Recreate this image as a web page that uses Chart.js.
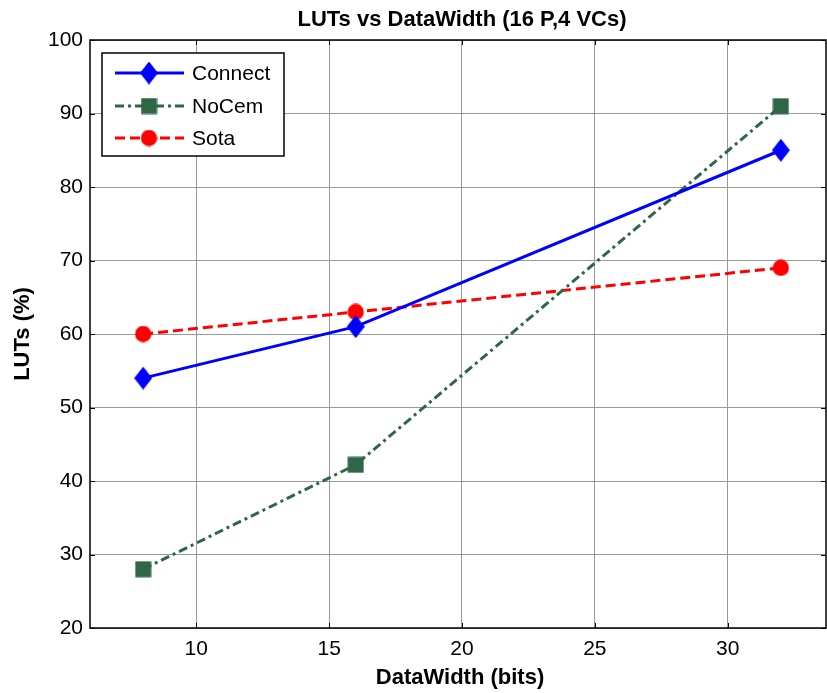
<!DOCTYPE html>
<html>
<head>
<meta charset="utf-8">
<script src="https://cdn.jsdelivr.net/npm/chart.js@4/dist/chart.umd.min.js"></script>
<style>
  html, body { margin: 0; padding: 0; background: #fff; }
  canvas { display: block; }
</style>
</head>
<body>
<canvas id="chart" width="827" height="693"></canvas>
<script>
// values
const dataWidth = [8, 16, 32];
const connect = [54, 61, 85];
const noCem = [28, 42.2, 91];
const sota = [60, 63, 69];
const xTicks = [10, 15, 20, 25, 30];
const seriesNames = ['Connect', 'NoCem', 'Sota'];

const FONT = '"Liberation Sans", Arial, sans-serif';
const blue = '#0000ff', green = '#2f6646', red = '#ff0000';

function marker(shape, color) {
  const c = document.createElement('canvas');
  const w = shape === 'diamond' ? 18 : 17, h = shape === 'diamond' ? 23 : 17;
  c.width = w; c.height = h;
  const g = c.getContext('2d');
  g.fillStyle = color;
  g.beginPath();
  if (shape === 'diamond') {
    g.moveTo(w / 2, 0); g.lineTo(w, h / 2); g.lineTo(w / 2, h); g.lineTo(0, h / 2);
  } else if (shape === 'square') {
    g.rect(0.5, 0.5, w - 1, h - 1);
  } else {
    g.arc(w / 2, h / 2, w / 2 - 0.3, 0, Math.PI * 2);
  }
  g.closePath();
  g.fill();
  return c;
}

const markers = [marker('diamond', blue), marker('square', green), marker('circle', red)];
const colors = [blue, green, red];
const dashes = [[], [9, 4, 3, 4], [10, 5]];
const values = [connect, noCem, sota];

function pts(ys) {
  return dataWidth.map((x, i) => ({ x: x, y: ys[i] }));
}

const frame = {
  id: 'frame',
  afterDraw(chart) {
    const ctx = chart.ctx, a = chart.chartArea;
    const xs = chart.scales.x, ys = chart.scales.y;
    ctx.save();
    ctx.strokeStyle = '#000';
    ctx.lineWidth = 1.5;
    ctx.strokeRect(a.left, a.top, a.right - a.left, a.bottom - a.top);
    ctx.lineWidth = 1;
    ctx.beginPath();
    xTicks.forEach(v => {
      const px = Math.round(xs.getPixelForValue(v)) + 0.5;
      ctx.moveTo(px, a.bottom); ctx.lineTo(px, a.bottom - 5);
      ctx.moveTo(px, a.top); ctx.lineTo(px, a.top + 5);
    });
    ys.ticks.forEach(t => {
      const py = Math.round(ys.getPixelForValue(t.value)) + 0.5;
      ctx.moveTo(a.left, py); ctx.lineTo(a.left + 5, py);
      ctx.moveTo(a.right, py); ctx.lineTo(a.right - 5, py);
    });
    ctx.stroke();

    // titles
    ctx.fillStyle = '#000';
    ctx.textAlign = 'center';
    ctx.textBaseline = 'middle';
    ctx.font = 'bold 22px ' + FONT;
    ctx.fillText('LUTs vs DataWidth (16 P,4 VCs)', 462, 20);
    ctx.fillText('DataWidth (bits)', 460, 678);
    ctx.translate(23, 334);
    ctx.rotate(-Math.PI / 2);
    ctx.fillText('LUTs (%)', 0, 0);
    ctx.restore();

    // legend
    ctx.save();
    ctx.fillStyle = '#fff';
    ctx.fillRect(102, 53, 182, 103);
    ctx.strokeStyle = '#000';
    ctx.lineWidth = 1.5;
    ctx.strokeRect(102, 53, 182, 103);
    const rows = [73, 106, 138];
    ctx.font = '21px ' + FONT;
    ctx.textAlign = 'left';
    ctx.textBaseline = 'middle';
    rows.forEach((y, i) => {
      ctx.strokeStyle = colors[i];
      ctx.lineWidth = 3;
      ctx.setLineDash(dashes[i]);
      ctx.beginPath();
      ctx.moveTo(115, y); ctx.lineTo(184, y);
      ctx.stroke();
      ctx.setLineDash([]);
      const m = markers[i];
      ctx.drawImage(m, 149 - m.width / 2, y - m.height / 2);
      ctx.fillStyle = '#000';
      ctx.fillText(seriesNames[i], 192, y + 1);
    });
    ctx.restore();
  }
};

new Chart(document.getElementById('chart'), {
  type: 'line',
  data: {
    datasets: values.map((ys, i) => ({
      label: seriesNames[i],
      data: pts(ys),
      borderColor: colors[i],
      backgroundColor: colors[i],
      borderWidth: 3,
      borderDash: dashes[i],
      pointStyle: markers[i],
      pointRadius: 9,
      pointHoverRadius: 9,
      tension: 0,
      fill: false,
      clip: false
    }))
  },
  options: {
    responsive: false,
    animation: false,
    events: [],
    layout: { autoPadding: false, padding: { left: 0, top: 40, right: 1, bottom: 0 } },
    plugins: {
      legend: { display: false },
      title: { display: false },
      tooltip: { enabled: false }
    },
    scales: {
      x: {
        type: 'linear',
        min: 6,
        max: 33.7,
        afterBuildTicks: s => { s.ticks = xTicks.map(v => ({ value: v })); },
        afterFit: s => { s.height = 65; s.paddingLeft = 0; s.paddingRight = 0; },
        grid: { color: '#999', lineWidth: 1, drawTicks: false },
        border: { display: false },
        ticks: { color: '#000', font: { family: FONT, size: 21 }, padding: 9, maxRotation: 0 }
      },
      y: {
        min: 20,
        max: 100,
        afterFit: s => { s.width = 90; s.paddingTop = 0; s.paddingBottom = 0; },
        grid: { color: '#999', lineWidth: 1, drawTicks: false },
        border: { display: false },
        ticks: { stepSize: 10, color: '#000', font: { family: FONT, size: 21 }, padding: 7 }
      }
    }
  },
  plugins: [frame]
});
</script>
</body>
</html>
